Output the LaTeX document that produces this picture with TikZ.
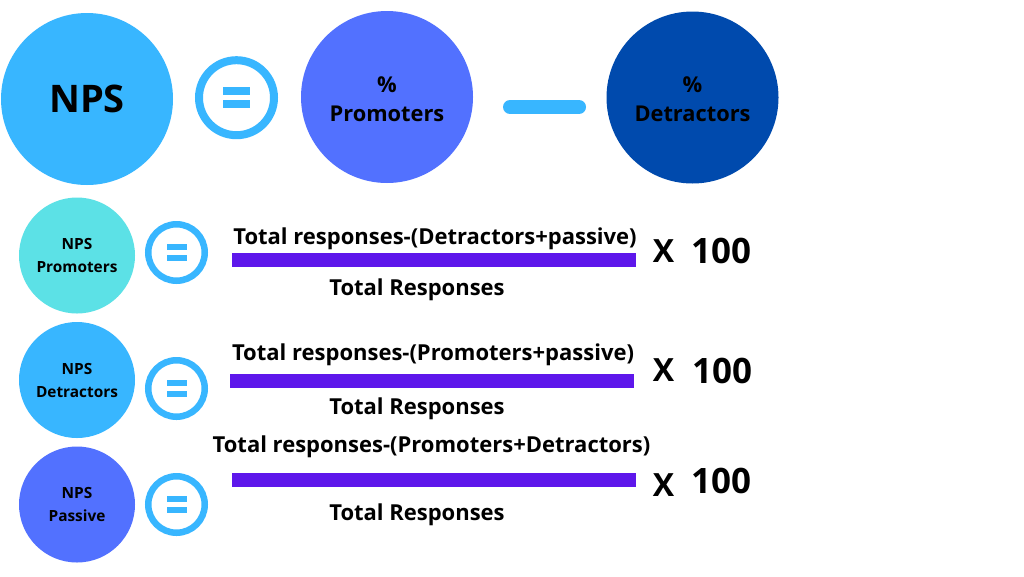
\documentclass[tikz,border=0pt]{standalone}
\usepackage{fontspec}
\setmainfont{Open Sans}
\definecolor{sky}{HTML}{38B6FF}
\definecolor{royal}{HTML}{5271FF}
\definecolor{navy}{HTML}{004AAD}
\definecolor{turq}{HTML}{5CE1E6}
\definecolor{violet}{HTML}{5E17EB}
\begin{document}
\begin{tikzpicture}[x=1pt,y=-1pt,
 big/.style={circle,inner sep=0,minimum size=172pt,font=\bfseries\fontsize{21.8}{29}\selectfont,align=center},
 small/.style={circle,inner sep=0,minimum size=116pt,font=\bfseries\fontsize{15.4}{23}\selectfont,align=center},
 eqbig/.style={circle,draw=sky,line width=8pt,minimum size=75pt,inner sep=0},
 eqsmall/.style={circle,draw=sky,line width=6.5pt,minimum size=56.5pt,inner sep=0},
 fracbar/.style={fill=violet},
 numtext/.style={font=\bfseries\fontsize{22}{22}\selectfont,inner sep=0},
 timestext/.style={font=\bfseries\fontsize{32}{32}\selectfont,inner sep=0},
 hundred/.style={font=\bfseries\fontsize{35}{35}\selectfont,inner sep=0}]
\useasboundingbox[fill=white] (0,0) rectangle (1024,576);

% top row
\node[big,fill=sky,font=\bfseries\fontsize{38}{38}\selectfont] (nps) at (87,99) {NPS};
\node[eqbig] (eq0) at (236.5,97.7) {};
\fill[sky] ([shift={(-13.5,-10.5)}]eq0.center) rectangle ([shift={(13.5,-2.5)}]eq0.center);
\fill[sky] ([shift={(-13.5,2.5)}]eq0.center) rectangle ([shift={(13.5,10.5)}]eq0.center);
\node[big,fill=royal] (prom) at (387,97) {};
\node[font=\bfseries\fontsize{21.8}{29}\selectfont,align=center,inner sep=0] (promt) at (387,99) {\%\\Promoters};
\coordinate (mL) at (510,107);
\coordinate (mR) at (579,107);
\draw[sky,line width=14pt,line cap=round] (mL) -- (mR);
\node[big,fill=navy] (detr) at (692.5,97.5) {};
\node[font=\bfseries\fontsize{21.8}{29}\selectfont,align=center,inner sep=0] (detrt) at (692.5,99) {\%\\Detractors};

% row 2
\node[small,fill=turq] (p) at (77,255.5) {NPS\\Promoters};
\node[eqsmall] (eq1) at (176.5,252.5) {};
\node[numtext] (n1) at (435,239) {Total responses-(Detractors+passive)};
\fill[fracbar] (232,253) rectangle (636,267);
\node[numtext] (d1) at (417,290) {Total Responses};
\node[timestext] (x1) at (663.5,251) {X};
\node[hundred] (h1) at (721,250.5) {100};

% row 3
\node[small,fill=sky] (d) at (77,380) {NPS\\Detractors};
\node[eqsmall] (eq2) at (176.5,388.5) {};
\node[numtext] (n2) at (433,355) {Total responses-(Promoters+passive)};
\fill[fracbar] (230,374) rectangle (634,388);
\node[numtext] (d2) at (417,409) {Total Responses};
\node[timestext] (x2) at (663.5,370) {X};
\node[hundred] (h2) at (722,370.5) {100};

% row 4
\node[small,fill=royal] (s) at (77,504.5) {NPS\\Passive};
\node[eqsmall] (eq3) at (176.5,504.5) {};
\node[numtext] (n3) at (431.5,447) {Total responses-(Promoters+Detractors)};
\fill[fracbar] (232,473) rectangle (636,487);
\node[numtext] (d3) at (417,515) {Total Responses};
\node[timestext] (x3) at (663.5,485) {X};
\node[hundred] (h3) at (721,481) {100};

\foreach \e in {eq1,eq2,eq3}{
  \fill[sky] ([shift={(-10,-8.5)}]\e.center) rectangle ([shift={(10,-2.5)}]\e.center);
  \fill[sky] ([shift={(-10,2.5)}]\e.center) rectangle ([shift={(10,8.5)}]\e.center);
}
\end{tikzpicture}
\end{document}
